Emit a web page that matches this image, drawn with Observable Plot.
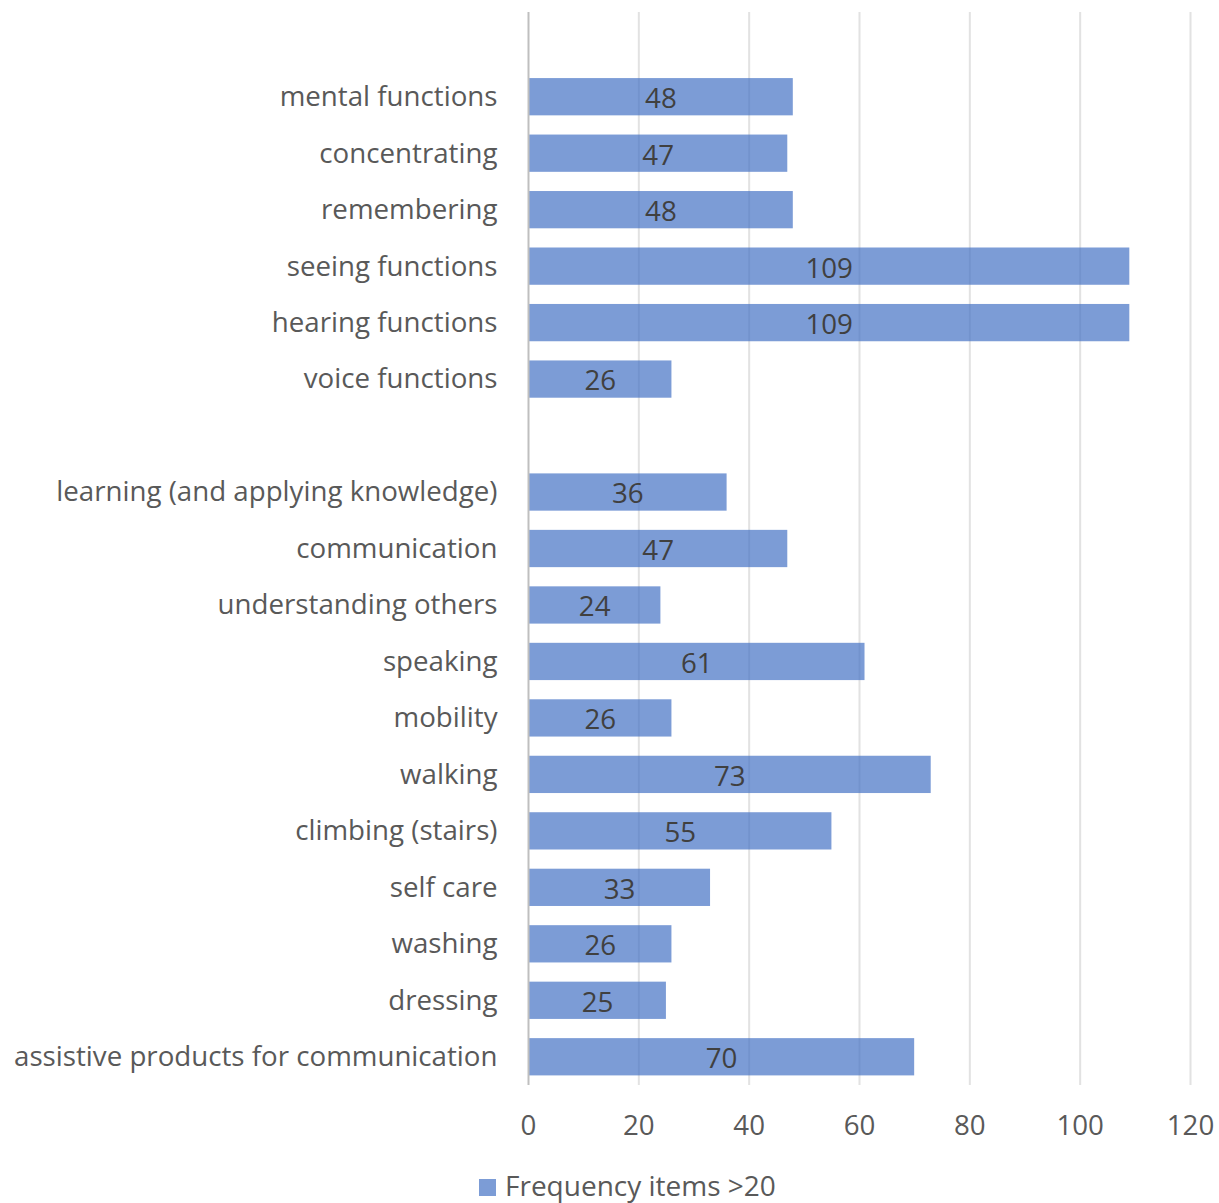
<!DOCTYPE html>
<html>
<head>
<meta charset="utf-8">
<script src="https://cdn.jsdelivr.net/npm/d3@7"></script>
<script src="https://cdn.jsdelivr.net/npm/@observablehq/plot@0.6"></script>
<style>
  body { margin: 0; background: #fff; font-family: "Open Sans", sans-serif; }
  #wrap { position: relative; width: 1219px; height: 1203px; overflow: hidden; }
  #legend { position: absolute; left: 479px; top: 1171px; display: flex; align-items: center; font-size: 28px; line-height: 1; color: #595959; white-space: nowrap; }
  #legend .sw { width: 17px; height: 17px; background: #7c9cd6; margin-right: 9px; margin-top: 4px; }
</style>
</head>
<body>
<div id="wrap">
  <div id="chart"></div>
  <div id="legend"><span class="sw"></span><span>Frequency items &gt;20</span></div>
</div>
<script>
const categories = [
  "mental functions", "concentrating", "remembering", "seeing functions",
  "hearing functions", "voice functions",
  "learning (and applying knowledge)", "communication", "understanding others",
  "speaking", "mobility", "walking", "climbing (stairs)", "self care",
  "washing", "dressing", "assistive products for communication"
];
const values = [48, 47, 48, 109, 109, 26, 36, 47, 24, 61, 26, 73, 55, 33, 26, 25, 70];
const xTicks = [0, 20, 40, 60, 80, 100, 120];
const seriesName = "Frequency items >20";

// y domain: an empty row at top and a gap row after "voice functions"
const yDomain = ["_top", ...categories.slice(0, 6), "_gap", ...categories.slice(6)];
const data = categories.map((c, i) => ({category: c, value: values[i]}));

const chart = Plot.plot({
  width: 1219,
  height: 1160,
  marginLeft: 528,
  marginRight: 29,
  marginTop: 12,
  marginBottom: 75,
  style: {fontFamily: "Open Sans, sans-serif", background: "#fff"},
  x: {domain: [0, 120], ticks: xTicks},
  y: {domain: yDomain, paddingInner: 0.34, paddingOuter: 0.17, round: false},
  marks: [
    Plot.gridX(xTicks.filter(d => d > 0), {stroke: "#e2e2e2", strokeOpacity: 1, strokeWidth: 2}),
    Plot.barX(data, {x: "value", y: "category", fill: "#4472C4", fillOpacity: 0.7}),
    Plot.ruleX([0], {stroke: "#bfbfbf", strokeWidth: 2}),
    Plot.text(data, {x: d => d.value / 2, y: "category", text: d => String(d.value), fill: "#404040", fontSize: 27.7, dy: 2}),
    Plot.axisX({ticks: xTicks, tickSize: 0, tickPadding: 30, fontSize: 27.7, color: "#595959", label: null}),
    Plot.axisY({tickSize: 0, tickPadding: 31, fontSize: 27.7, color: "#595959", label: null,
      tickFormat: d => d.startsWith("_") ? "" : d})
  ]
});
document.getElementById("chart").appendChild(chart);
document.querySelector("#legend span:last-child").textContent = seriesName;
</script>
</body>
</html>
